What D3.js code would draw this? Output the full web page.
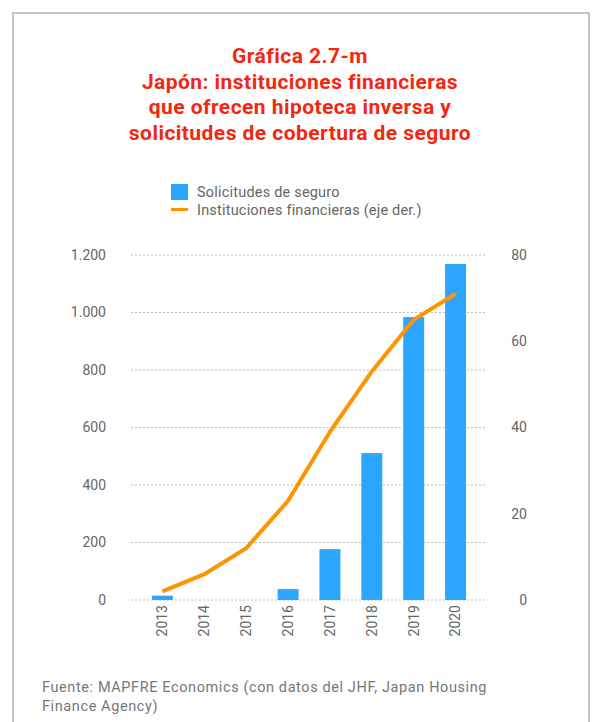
<!DOCTYPE html>
<html>
<head>
<meta charset="utf-8">
<script src="https://cdn.jsdelivr.net/npm/d3@7"></script>
<style>
  body { margin: 0; background: #fff; }
  text { font-family: Roboto, "Noto Sans", sans-serif; }
</style>
</head>
<body>
<div class="chart"></div>
<script>
const years = ['2013', '2014', '2015', '2016', '2017', '2018', '2019', '2020']
const solicitudes = [15, 0, 0, 38, 177, 511, 984, 1169]
const instituciones = [2, 6, 12, 23, 39, 53, 65, 71]
const leftTicks = [0, 200, 400, 600, 800, 1000, 1200]
const rightTicks = [0, 20, 40, 60, 80]
const titleLines = ['Gráfica 2.7-m', 'Japón: instituciones financieras', 'que ofrecen hipoteca inversa y', 'solicitudes de cobertura de seguro']
const legendItems = ['Solicitudes de seguro', 'Instituciones financieras (eje der.)']
const sourceLines = ['Fuente: MAPFRE Economics (con datos del JHF, Japan Housing', 'Finance Agency)']

const width = 596
const height = 722
const margin = {top: 255, right: 109, bottom: 122, left: 131}

const svg = d3.select('.chart')
  .append('svg')
  .attr('width', width)
  .attr('height', height)

// frame
svg.append('path')
  .attr('d', `M13,${height} L13,13 L589,13 L589,${height}`)
  .attr('fill', 'none')
  .attr('stroke', '#c4c4c4')
  .attr('stroke-width', 2)

// title
svg.append('g')
  .selectAll('text')
  .data(titleLines)
  .enter().append('text')
    .attr('x', 300)
    .attr('y', (d, i) => 63 + i * 25.7)
    .attr('text-anchor', 'middle')
    .style('font-size', '21px')
    .style('font-weight', 'bold')
    .style('letter-spacing', '0.45px')
    .style('fill', '#f5260f')
    .text(d => d)

const x = d3.scaleBand()
  .domain(years)
  .range([margin.left, width - margin.right])
  .padding(0.5)

const yLeft = d3.scaleLinear()
  .domain([0, 1200])
  .range([height - margin.bottom, margin.top])

const yRight = d3.scaleLinear()
  .domain([0, 80])
  .range([height - margin.bottom, margin.top])

// gridlines
svg.append('g')
  .selectAll('line')
  .data(leftTicks)
  .enter().append('line')
    .attr('x1', margin.left)
    .attr('x2', width - margin.right)
    .attr('y1', d => yLeft(d))
    .attr('y2', d => yLeft(d))
    .attr('stroke', '#bdbdbd')
    .attr('stroke-width', 1)
    .style('stroke-dasharray', '2,2')

// left axis labels
svg.append('g')
  .selectAll('text')
  .data(leftTicks)
  .enter().append('text')
    .attr('x', 106)
    .attr('y', d => yLeft(d))
    .attr('dy', '0.35em')
    .attr('text-anchor', 'end')
    .style('font-size', '14px')
    .style('fill', '#666')
    .text(d => d3.format(',')(d).replace(',', '.'))

// right axis labels
svg.append('g')
  .selectAll('text')
  .data(rightTicks)
  .enter().append('text')
    .attr('x', 527)
    .attr('y', d => yRight(d))
    .attr('dy', '0.35em')
    .attr('text-anchor', 'end')
    .style('font-size', '14px')
    .style('fill', '#666')
    .text(d => d)

// bars
svg.append('g')
  .selectAll('rect')
  .data(solicitudes)
  .enter().append('rect')
    .attr('x', (d, i) => x(years[i]))
    .attr('y', d => yLeft(d))
    .attr('width', x.bandwidth())
    .attr('height', d => yLeft(0) - yLeft(d))
    .attr('fill', '#2ba6ff')

// line
const line = d3.line()
  .x((d, i) => x(years[i]) + x.bandwidth() / 2)
  .y(d => yRight(d))

svg.append('path')
  .datum(instituciones)
  .attr('d', line)
  .attr('fill', 'none')
  .attr('stroke', '#ff9400')
  .attr('stroke-width', 4)

// x labels, rotated
svg.append('g')
  .selectAll('text')
  .data(years)
  .enter().append('text')
    .attr('transform', d => `translate(${x(d) + x.bandwidth() / 2}, ${height - margin.bottom + 5}) rotate(-90)`)
    .attr('dy', '0.35em')
    .attr('text-anchor', 'end')
    .style('font-size', '14px')
    .style('fill', '#666')
    .text(d => d)

// legend
const legend = svg.append('g')
legend.append('rect')
  .attr('x', 171)
  .attr('y', 184)
  .attr('width', 17)
  .attr('height', 16)
  .attr('fill', '#2ba6ff')
legend.append('line')
  .attr('x1', 171)
  .attr('x2', 188)
  .attr('y1', 209.5)
  .attr('y2', 209.5)
  .attr('stroke', '#ff9400')
  .attr('stroke-width', 3)
legend.selectAll('text')
  .data(legendItems)
  .enter().append('text')
    .attr('x', 197)
    .attr('y', (d, i) => 197 + i * 18)
    .style('font-size', '14.5px')
    .style('letter-spacing', '0.2px')
    .style('fill', '#666')
    .text(d => d)

// source
svg.append('g')
  .selectAll('text')
  .data(sourceLines)
  .enter().append('text')
    .attr('x', 42)
    .attr('y', (d, i) => 692 + i * 18.5)
    .style('font-size', '14.5px')
    .style('letter-spacing', '0.6px')
    .style('fill', '#777')
    .text(d => d)
</script>
</body>
</html>
